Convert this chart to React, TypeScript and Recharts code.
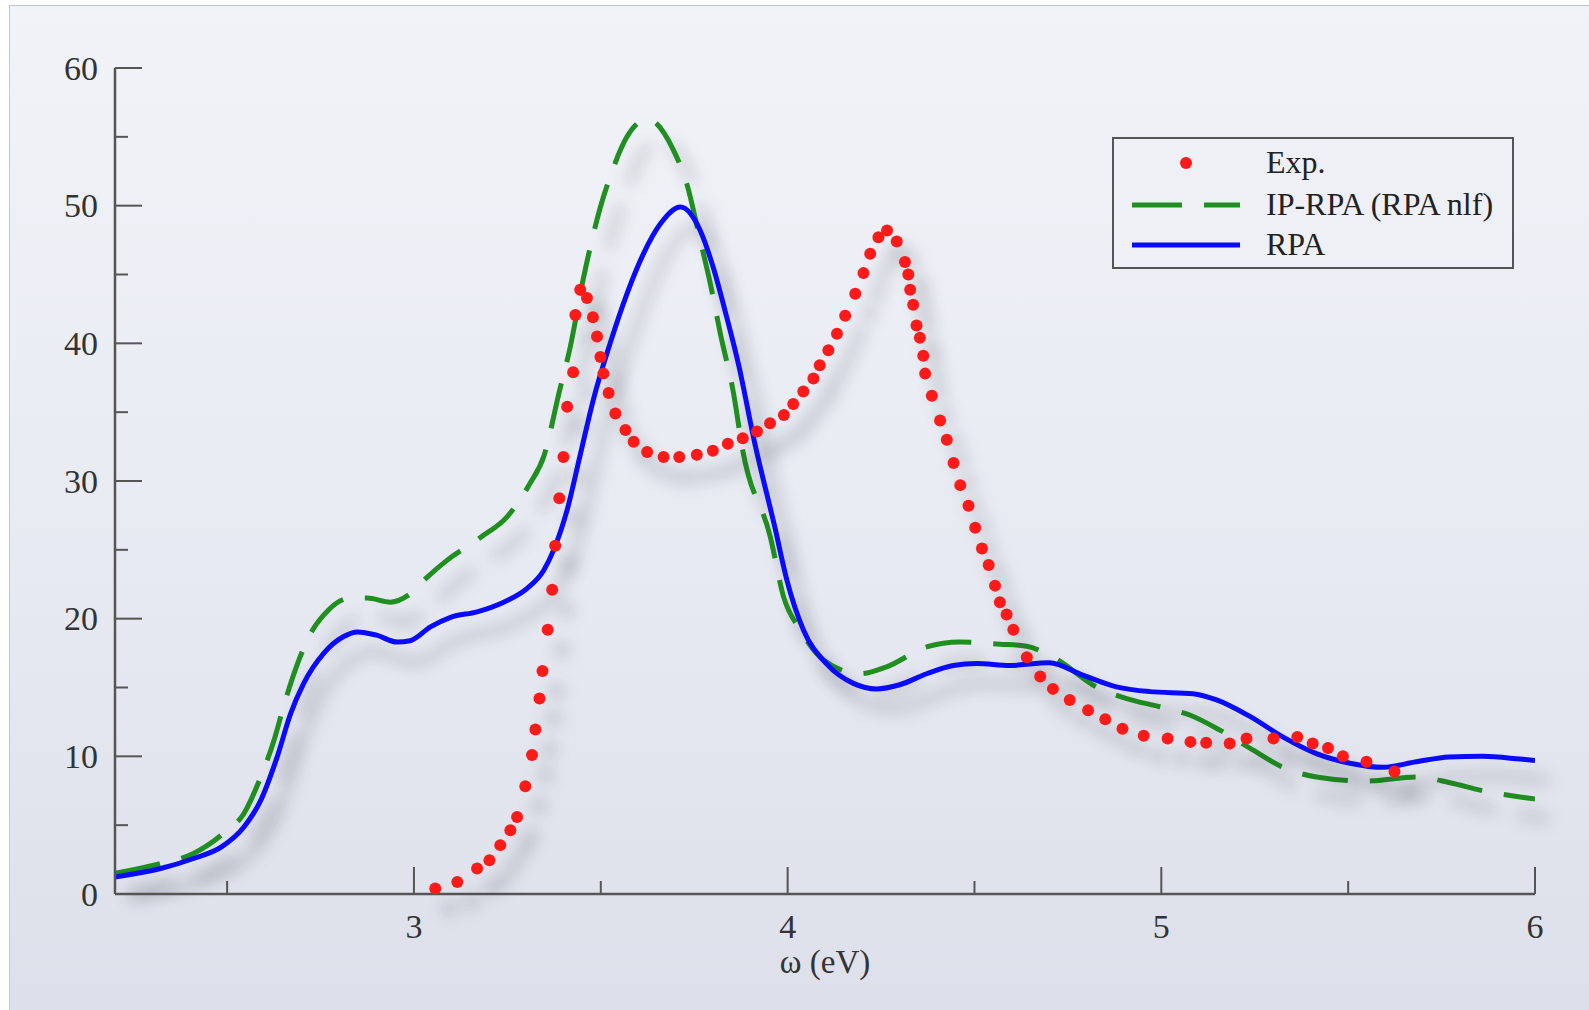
import React from "react";
import { ComposedChart, Line, Scatter, XAxis, YAxis } from "recharts";

// measured spectra, [omega (eV), value]
const expPoints: [number, number][] = [
  [3.057, 0.4], [3.116, 0.88], [3.169, 1.85], [3.202, 2.46], [3.231, 3.55],
  [3.258, 4.63], [3.276, 5.6], [3.298, 7.83], [3.316, 10.1], [3.325, 11.95],
  [3.336, 14.2], [3.344, 16.2], [3.358, 19.2], [3.37, 22.1], [3.378, 25.3],
  [3.389, 28.75], [3.4, 31.75], [3.41, 35.4], [3.426, 37.9], [3.432, 42.05],
  [3.445, 43.9], [3.463, 43.3], [3.479, 41.9], [3.49, 40.5], [3.499, 39.0],
  [3.507, 37.8], [3.521, 36.4], [3.539, 34.9], [3.566, 33.7], [3.588, 32.85],
  [3.624, 32.1], [3.668, 31.75], [3.71, 31.75], [3.757, 31.9], [3.8, 32.2],
  [3.84, 32.7], [3.88, 33.1], [3.918, 33.6], [3.953, 34.2], [3.99, 34.8],
  [4.015, 35.6], [4.042, 36.5], [4.069, 37.45], [4.086, 38.4], [4.109, 39.5],
  [4.132, 40.7], [4.154, 42.0], [4.181, 43.6], [4.203, 45.1], [4.221, 46.5],
  [4.243, 47.7], [4.266, 48.2], [4.292, 47.4], [4.314, 45.9], [4.323, 45.0],
  [4.328, 43.9], [4.336, 42.8], [4.345, 41.3], [4.354, 40.4], [4.363, 39.1],
  [4.368, 37.8], [4.386, 36.2], [4.408, 34.4], [4.426, 33.0], [4.444, 31.3],
  [4.462, 29.7], [4.484, 28.2], [4.502, 26.6], [4.52, 25.1], [4.538, 23.9],
  [4.555, 22.4], [4.568, 21.2], [4.586, 20.3], [4.604, 19.2], [4.64, 17.2],
  [4.676, 15.8], [4.71, 14.9], [4.755, 14.1], [4.804, 13.35], [4.85, 12.7],
  [4.896, 12.0], [4.953, 11.5], [5.017, 11.3], [5.078, 11.05], [5.12, 10.98],
  [5.183, 10.93], [5.228, 11.3], [5.3, 11.3], [5.364, 11.4], [5.405, 10.93],
  [5.446, 10.6], [5.486, 10.0], [5.549, 9.6], [5.624, 8.9],
];

const ipRpaPoints: [number, number][] = [
  [2.2, 1.5], [2.32, 2.2], [2.41, 2.94], [2.49, 4.4], [2.545, 5.85],
  [2.59, 8.5], [2.626, 11.2], [2.653, 13.8], [2.688, 16.7], [2.723, 18.9],
  [2.77, 20.6], [2.83, 21.5], [2.875, 21.5], [2.937, 21.2], [2.99, 21.8],
  [3.035, 23.0], [3.089, 24.25], [3.178, 25.9], [3.249, 27.4], [3.31, 29.8],
  [3.347, 31.75], [3.39, 36.6], [3.418, 39.7], [3.454, 44.8], [3.472, 47.0],
  [3.499, 49.9], [3.525, 52.1], [3.57, 55.0], [3.624, 56.3], [3.695, 54.0],
  [3.73, 51.6], [3.766, 47.5], [3.793, 44.35], [3.82, 40.7], [3.855, 36.4],
  [3.88, 32.2], [3.954, 25.9], [3.989, 21.6], [4.033, 19.2], [4.096, 17.0],
  [4.194, 16.0], [4.265, 16.5], [4.372, 17.95], [4.461, 18.3], [4.568, 18.15],
  [4.64, 18.0], [4.71, 17.2], [4.836, 14.9], [4.907, 14.2], [4.996, 13.6],
  [5.076, 13.0], [5.157, 11.9], [5.237, 10.6], [5.326, 9.2], [5.415, 8.5],
  [5.549, 8.2], [5.682, 8.5], [5.77, 8.1], [5.86, 7.5], [5.96, 7.05], [6.0, 6.9],
];

const rpaPoints: [number, number][] = [
  [2.2, 1.24], [2.322, 1.85], [2.41, 2.58], [2.485, 3.42], [2.545, 4.87],
  [2.59, 6.8], [2.634, 9.96], [2.67, 13.1], [2.705, 15.3], [2.759, 17.5],
  [2.812, 18.7], [2.848, 19.04], [2.9, 18.8], [2.955, 18.3], [2.99, 18.4],
  [3.044, 19.4], [3.098, 20.1], [3.169, 20.5], [3.24, 21.2], [3.303, 22.2],
  [3.347, 23.5], [3.374, 25.0], [3.41, 27.9], [3.445, 31.9], [3.48, 35.9],
  [3.525, 40.0], [3.57, 43.6], [3.614, 46.5], [3.66, 48.7], [3.713, 49.9],
  [3.766, 48.2], [3.8, 45.6], [3.837, 41.9], [3.87, 38.3], [3.91, 33.0],
  [3.967, 26.5], [3.998, 22.8], [4.042, 19.2], [4.105, 16.7], [4.176, 15.3],
  [4.238, 14.9], [4.3, 15.2], [4.372, 16.0], [4.443, 16.6], [4.506, 16.75],
  [4.595, 16.6], [4.7, 16.8], [4.79, 15.9], [4.88, 15.05], [4.969, 14.7],
  [5.085, 14.55], [5.148, 14.1], [5.237, 12.9], [5.326, 11.4], [5.415, 10.2],
  [5.505, 9.5], [5.593, 9.2], [5.682, 9.6], [5.77, 9.96], [5.86, 10.0],
  [5.96, 9.8], [6.0, 9.7],
];

const xTicks = [2.5, 3, 3.5, 4, 4.5, 5, 5.5, 6];
const xLabels = [3, 4, 5, 6];
const yTicks = [0, 5, 10, 15, 20, 25, 30, 35, 40, 45, 50, 55, 60];
const yLabels = [0, 10, 20, 30, 40, 50, 60];

const toRows = (pts: [number, number][]) => pts.map(([x, y]) => ({ x, y }));

const FONT = "'Liberation Serif', 'Times New Roman', serif";
const AXIS = "#555";
const RED = "#ff1a1a";
const GREEN = "#1f8f1f";
const BLUE = "#0a0aff";
const BIG = 27;
const SMALL = 13;

const BottomTick = ({ x, y, payload }: any) => {
  const major = xLabels.includes(payload.value);
  return (
    <g>
      <line x1={x} x2={x} y1={y} y2={y - (major ? BIG : SMALL)} stroke={AXIS} strokeWidth={2} />
      {major && (
        <text x={x} y={y + 32} textAnchor="middle" dominantBaseline="central"
          fontFamily={FONT} fontSize={34} fill="#333">
          {payload.value}
        </text>
      )}
    </g>
  );
};

const TopTick = ({ x, y, payload }: any) => {
  const major = xLabels.includes(payload.value);
  return <line x1={x} x2={x} y1={y} y2={y + (major ? BIG : SMALL)} stroke={AXIS} strokeWidth={2} />;
};

const LeftTick = ({ x, y, payload }: any) => {
  const major = yLabels.includes(payload.value);
  return (
    <g>
      <line x1={x} x2={x + (major ? BIG : SMALL)} y1={y} y2={y} stroke={AXIS} strokeWidth={2} />
      {major && (
        <text x={x - 17} y={y} textAnchor="end" dominantBaseline="central"
          fontFamily={FONT} fontSize={34} fill="#333">
          {payload.value}
        </text>
      )}
    </g>
  );
};

const RightTick = ({ x, y, payload }: any) => {
  const major = yLabels.includes(payload.value);
  return <line x1={x} x2={x - (major ? BIG : SMALL)} y1={y} y2={y} stroke={AXIS} strokeWidth={2} />;
};

const Dot = (props: any) => <circle cx={props.cx} cy={props.cy} r={6} fill={RED} />;

function LegendBox() {
  const row = { position: "absolute" as const, left: 152, fontFamily: FONT, fontSize: 32, color: "#222", lineHeight: "32px" };
  return (
    <div style={{ position: "absolute", left: 1112, top: 137, width: 398, height: 128, border: `2px solid ${AXIS}`, background: "#eef0f6" }}>
      <svg width={150} height={128} style={{ position: "absolute", left: 0, top: 0 }}>
        <circle cx={72} cy={24} r={6} fill={RED} />
        <line x1={18} x2={126} y1={66} y2={66} stroke={GREEN} strokeWidth={5} strokeDasharray="50 22" />
        <line x1={18} x2={126} y1={106} y2={106} stroke={BLUE} strokeWidth={5} />
      </svg>
      <div style={{ ...row, top: 7 }}>Exp.</div>
      <div style={{ ...row, top: 49 }}>IP-RPA (RPA nlf)</div>
      <div style={{ ...row, top: 89 }}>RPA</div>
    </div>
  );
}

export default function App() {
  return (
    <div style={{ position: "absolute", left: 0, top: 0, width: 1589, height: 1010, background: "#fff", overflow: "hidden" }}>
      <style>{`.recharts-line, .recharts-scatter { filter: drop-shadow(14px 20px 8px rgba(40,40,55,0.33)); }`}</style>
      <div style={{ position: "absolute", left: 9, top: 5, right: 0, bottom: 0, borderLeft: "1px solid #c4c6cc", borderTop: "1px solid #c4c6cc", background: "linear-gradient(180deg, #f1f3f8 0%, #e8ebf2 50%, #dde0ea 100%)" }} />
      <div style={{ position: "absolute", left: 0, top: 0 }}>
        <ComposedChart width={1589} height={1010} margin={{ top: 68, right: 54, bottom: 0, left: 0 }}>
          <XAxis xAxisId="b" dataKey="x" type="number" domain={[2.2, 6]} allowDataOverflow ticks={xTicks} interval={0}
            height={116} tickSize={0} tickMargin={0} tick={<BottomTick />} axisLine={{ stroke: AXIS, strokeWidth: 2.5 }}
            label={{ value: "ω (eV)", position: "insideTop", offset: 56, fontFamily: FONT, fontSize: 33, fill: "#333" }} />
          <XAxis xAxisId="t" orientation="top" dataKey="x" type="number" domain={[2.2, 6]} allowDataOverflow ticks={xTicks}
            interval={0} height={0} tickSize={0} tickMargin={0} tick={<TopTick />} axisLine={{ stroke: AXIS, strokeWidth: 2.5 }} />
          <YAxis yAxisId="l" type="number" domain={[0, 60]} ticks={yTicks} interval={0} width={115}
            tickSize={0} tickMargin={0} tick={<LeftTick />} axisLine={{ stroke: AXIS, strokeWidth: 2.5 }} />
          <YAxis yAxisId="r" orientation="right" type="number" domain={[0, 60]} ticks={yTicks} interval={0} width={0}
            tickSize={0} tickMargin={0} tick={<RightTick />} axisLine={{ stroke: AXIS, strokeWidth: 2.5 }} />
          <Line xAxisId="b" yAxisId="l" data={toRows(ipRpaPoints)} dataKey="y" type="monotone" stroke={GREEN}
            strokeWidth={5} strokeDasharray="46 22" dot={false} isAnimationActive={false} />
          <Line xAxisId="b" yAxisId="l" data={toRows(rpaPoints)} dataKey="y" type="monotone" stroke={BLUE}
            strokeWidth={5} dot={false} isAnimationActive={false} />
          <Scatter xAxisId="b" yAxisId="l" data={toRows(expPoints)} dataKey="y" shape={<Dot />} isAnimationActive={false} />
        </ComposedChart>
      </div>
      <LegendBox />
    </div>
  );
}
